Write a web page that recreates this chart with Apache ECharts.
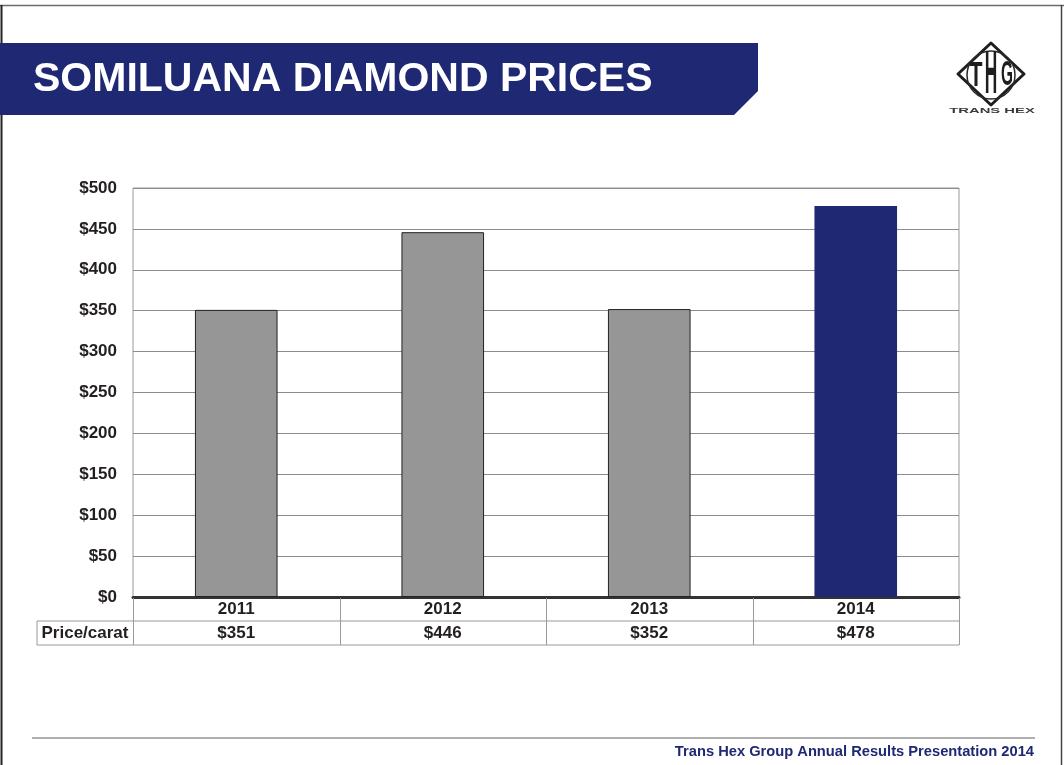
<!DOCTYPE html>
<html>
<head>
<meta charset="utf-8">
<script src="https://cdn.jsdelivr.net/npm/echarts@6/dist/echarts.min.js"></script>
<style>
  html, body { margin: 0; padding: 0; background: #ffffff; }
  #chart { width: 1064px; height: 765px; }
</style>
</head>
<body>
<div id="chart"></div>
<script>
// Somiluana average price per carat, by year
const years = ['2011', '2012', '2013', '2014'];
const pricePerCarat = [351, 446, 352, 478];
const yTicks = [0, 50, 100, 150, 200, 250, 300, 350, 400, 450, 500];
const rowLabel = 'Price/carat';
const titleText = 'SOMILUANA DIAMOND PRICES';
const footerText = 'Trans Hex Group Annual Results Presentation 2014';

const NAVY = '#1f2873';
const GREY_BAR = '#969696';
const TEXT = '#231f20';
const FONT = '"Liberation Sans", Arial, Helvetica, sans-serif';

const chart = echarts.init(document.getElementById('chart'), null, { renderer: 'canvas' });

const fmt = v => '$' + v;

chart.setOption({
  animation: false,
  backgroundColor: '#ffffff',
  textStyle: { fontFamily: FONT },
  grid: {
    left: 133, right: 105, top: 188, bottom: 168,
    show: true, borderColor: '#9a9a9a', borderWidth: 1, backgroundColor: 'transparent'
  },
  xAxis: [
    {
      type: 'category',
      data: years,
      position: 'bottom',
      axisLine: { show: true, lineStyle: { color: '#333333', width: 3 } },
      axisTick: { show: false },
      axisLabel: {
        margin: 0, lineHeight: 24, fontSize: 17, fontWeight: 'bold', color: TEXT, fontFamily: FONT
      },
      splitLine: { show: false }
    },
    {
      type: 'category',
      data: years,
      position: 'bottom',
      offset: 24,
      axisLine: { show: false },
      axisTick: { show: false },
      axisLabel: {
        margin: 0, lineHeight: 24, fontSize: 17, fontWeight: 'bold', color: TEXT, fontFamily: FONT,
        formatter: (v, i) => fmt(pricePerCarat[i])
      },
      splitLine: { show: false }
    }
  ],
  yAxis: {
    type: 'value',
    min: yTicks[0],
    max: yTicks[yTicks.length - 1],
    interval: yTicks[1] - yTicks[0],
    axisLine: { show: false },
    axisTick: { show: false },
    axisLabel: {
      margin: 16, fontSize: 17, fontWeight: 'bold', color: TEXT, fontFamily: FONT,
      formatter: fmt
    },
    splitLine: { show: true, lineStyle: { color: '#8c8c8c', width: 1 } }
  },
  series: [{
    type: 'bar',
    xAxisIndex: 0,
    barWidth: '40%',
    data: pricePerCarat.map((v, i) => ({
      value: v,
      itemStyle: i === pricePerCarat.length - 1
        ? { color: NAVY, borderWidth: 0 }
        : { color: GREY_BAR, borderColor: '#222222', borderWidth: 1 }
    }))
  }]
});

// Slide chrome, data-table rules, logo and footer
function drawDecor() {
  const c0 = chart.convertToPixel({ xAxisIndex: 0 }, years[0]);
  const c1 = chart.convertToPixel({ xAxisIndex: 0 }, years[1]);
  const step = c1 - c0;
  const x0 = c0 - step / 2;
  const xEnd = x0 + step * years.length;
  const yZero = chart.convertToPixel({ yAxisIndex: 0 }, 0);
  const rowH = 24;
  const y1 = yZero + rowH;
  const y2 = yZero + rowH * 2;
  const labelLeft = 37;
  const ruleStyle = { stroke: '#9a9a9a', lineWidth: 1 };

  const els = [];

  // slide frame
  els.push({ type: 'line', shape: { x1: 0, y1: 5.5, x2: 1064, y2: 5.5 }, style: { stroke: '#6b6b6b', lineWidth: 1.5 }, z: 10 });
  els.push({ type: 'line', shape: { x1: 1.5, y1: 5, x2: 1.5, y2: 765 }, style: { stroke: '#222222', lineWidth: 2 }, z: 10 });
  els.push({ type: 'line', shape: { x1: 1061.5, y1: 5, x2: 1061.5, y2: 765 }, style: { stroke: '#444444', lineWidth: 1.5 }, z: 10 });

  // title banner
  els.push({
    type: 'polygon',
    shape: { points: [[0, 43], [758, 43], [758, 91], [734, 115], [0, 115]] },
    style: { fill: NAVY },
    z: 10
  });
  els.push({
    type: 'text', x: 33, y: 80,
    style: { text: titleText, fill: '#ffffff', font: 'bold 41px ' + FONT, verticalAlign: 'middle', align: 'left' },
    z: 11
  });

  // logo: diamond, inner oval and condensed THG monogram
  const lx = 991, ly = 74;
  els.push({
    type: 'polygon',
    shape: { points: [[lx, 43], [lx + 33, ly], [lx, 105], [lx - 33, ly]] },
    style: { fill: '#ffffff', stroke: '#1e1e1e', lineWidth: 3, lineJoin: 'round' },
    z: 10
  });
  els.push({
    type: 'ellipse',
    shape: { cx: lx, cy: ly + 1, rx: 24, ry: 24 },
    style: { fill: 'none', stroke: '#2a2a2a', lineWidth: 1.5 },
    z: 10
  });
  els.push({
    type: 'text', x: lx - 15, y: ly + 2, scaleX: 0.76, scaleY: 1.25,
    style: { text: 'T', fill: '#1e1e1e', font: 'bold 28px ' + FONT, align: 'center', verticalAlign: 'middle' },
    z: 11
  });
  els.push({
    type: 'text', x: lx, y: ly + 2, scaleX: 0.62, scaleY: 2.2,
    style: { text: 'H', fill: '#1e1e1e', font: 'bold 28px ' + FONT, align: 'center', verticalAlign: 'middle' },
    z: 11
  });
  els.push({
    type: 'text', x: lx + 16, y: ly + 2, scaleX: 0.55, scaleY: 1.22,
    style: { text: 'G', fill: '#1e1e1e', font: 'bold 28px ' + FONT, align: 'center', verticalAlign: 'middle' },
    z: 11
  });
  els.push({
    type: 'text', x: 992, y: 111, scaleX: 1.85, scaleY: 1,
    style: { text: 'TRANS HEX', fill: '#3a3a3a', font: 'bold 8px ' + FONT, align: 'center', verticalAlign: 'middle' },
    z: 11
  });

  // data table rules
  els.push({ type: 'line', shape: { x1: labelLeft, y1: y1, x2: xEnd, y2: y1 }, style: ruleStyle, z: 5 });
  els.push({ type: 'line', shape: { x1: labelLeft, y1: y2, x2: xEnd, y2: y2 }, style: ruleStyle, z: 5 });
  els.push({ type: 'line', shape: { x1: labelLeft, y1: y1, x2: labelLeft, y2: y2 }, style: ruleStyle, z: 5 });
  for (let i = 0; i <= years.length; i++) {
    const x = Math.round(x0 + step * i) + 0.5;
    els.push({ type: 'line', shape: { x1: x, y1: yZero + 1, x2: x, y2: y2 }, style: ruleStyle, z: 5 });
  }
  els.push({
    type: 'text', x: (labelLeft + x0) / 2, y: (y1 + y2) / 2,
    style: { text: rowLabel, fill: TEXT, font: 'bold 17px ' + FONT, align: 'center', verticalAlign: 'middle' },
    z: 6
  });

  // footer
  els.push({ type: 'line', shape: { x1: 32, y1: 738, x2: 1035, y2: 738 }, style: { stroke: '#b0b0b0', lineWidth: 2 }, z: 5 });
  els.push({
    type: 'text', x: 1034, y: 752,
    style: { text: footerText, fill: NAVY, font: 'bold 14.7px ' + FONT, align: 'right', verticalAlign: 'middle' },
    z: 6
  });

  chart.setOption({ graphic: els });
}
drawDecor();
</script>
</body>
</html>
